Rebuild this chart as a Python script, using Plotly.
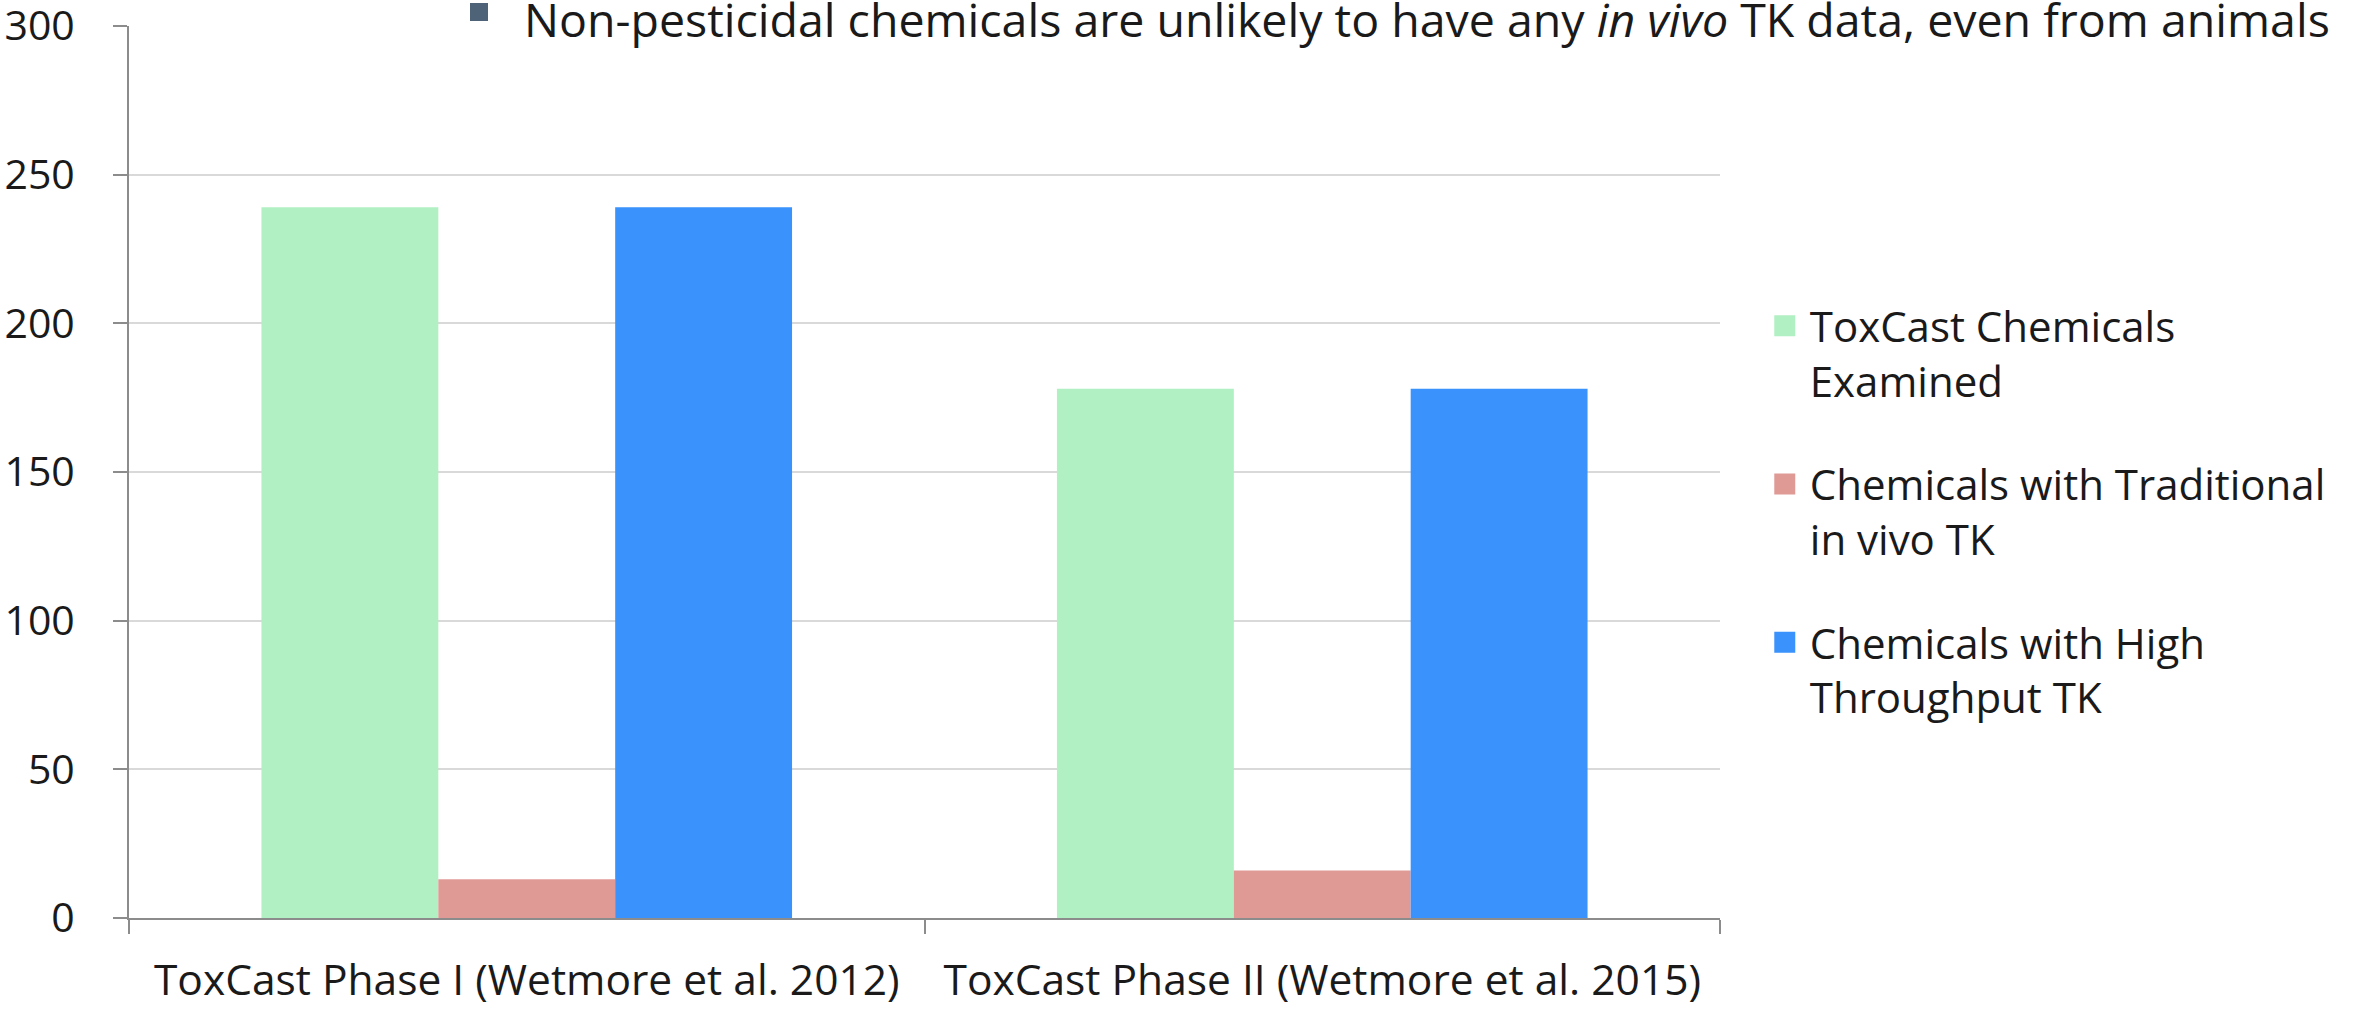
import plotly.graph_objects as go

# Chemical counts per ToxCast phase
phases = ["ToxCast Phase I (Wetmore et al. 2012)", "ToxCast Phase II (Wetmore et al. 2015)"]
series_names = [
    "ToxCast Chemicals<br>Examined",
    "Chemicals with Traditional<br>in vivo TK",
    "Chemicals with High<br>Throughput TK",
]
examined = [239, 178]
traditional_tk = [13, 16]
high_throughput_tk = [239, 178]
y_ticks = [0, 50, 100, 150, 200, 250, 300]

colors = ["#b0f0c2", "#e09a96", "#3a92fd"]
FONT = "Open Sans"
TEXT_COLOR = "#1a1a1a"

W, H = 2356, 1010
L, R, T, B = 129, 636, 26, 92
plot_w = W - L - R
plot_h = H - T - B


def px_x(px):
    return (px - L) / plot_w


def px_y(py):
    return (H - B - py) / plot_h


fig = go.Figure()
for name, vals, col in zip(series_names, [examined, traditional_tk, high_throughput_tk], colors):
    fig.add_trace(go.Bar(x=phases, y=vals, name=name, marker=dict(color=col, line=dict(width=0)),
                         showlegend=False))

# legend entries with larger square swatches
for i, (name, col) in enumerate(zip(series_names, colors)):
    fig.add_trace(go.Scatter(x=[None], y=[None], mode="markers", name=name,
                             legendgroup=f"g{i}",
                             marker=dict(symbol="square", size=16, color=col,
                                         line=dict(width=5, color=col))))

fig.update_layout(
    width=W, height=H,
    margin=dict(l=L, r=R, t=T, b=B, pad=0, autoexpand=False),
    paper_bgcolor="white", plot_bgcolor="white",
    barmode="group", bargap=0.333, bargroupgap=0,
    font=dict(family=FONT, size=40, color=TEXT_COLOR),
    legend=dict(x=1.025, y=px_y(292), xanchor="left", yanchor="top",
                font=dict(family=FONT, size=42, color=TEXT_COLOR),
                valign="top", tracegroupgap=46, itemwidth=40,
                bgcolor="rgba(0,0,0,0)"),
    xaxis=dict(type="category", showline=True, linecolor="#8c8c8c", linewidth=2,
               ticks="outside", tickson="boundaries", ticklen=14, tickcolor="#8c8c8c",
               tickwidth=2, showgrid=False, ticklabelstandoff=24, automargin=False,
               tickfont=dict(family=FONT, size=42.5, color=TEXT_COLOR)),
    yaxis=dict(range=[0, 300], tickvals=y_ticks, showline=True, linecolor="#8c8c8c",
               linewidth=2, ticks="outside", ticklen=14, tickcolor="#8c8c8c", tickwidth=2,
               showgrid=True, gridcolor="#d9d9d9", gridwidth=1.5, zeroline=False,
               ticklabelstandoff=30, ticklabeloverflow="allow", automargin=False,
               tickfont=dict(family=FONT, size=41, color=TEXT_COLOR)),
)

# white backing behind the bullet line, plus the bullet square
fig.add_shape(type="rect", xref="paper", yref="paper", x0=px_x(450), x1=1.4,
              y0=px_y(45), y1=px_y(0), fillcolor="white", line=dict(width=0), layer="above")
fig.add_shape(type="rect", xref="paper", yref="paper", x0=px_x(470), x1=px_x(488),
              y0=px_y(21), y1=px_y(3), fillcolor="#4e6278", line=dict(width=0), layer="above")
fig.add_annotation(
    text="Non-pesticidal chemicals are unlikely to have any <i>in vivo</i> TK data, even from animals",
    xref="paper", yref="paper", x=px_x(522), y=px_y(19), xanchor="left", yanchor="middle",
    showarrow=False, font=dict(family=FONT, size=46.5, color=TEXT_COLOR),
)

fig.write_html("out.html")
